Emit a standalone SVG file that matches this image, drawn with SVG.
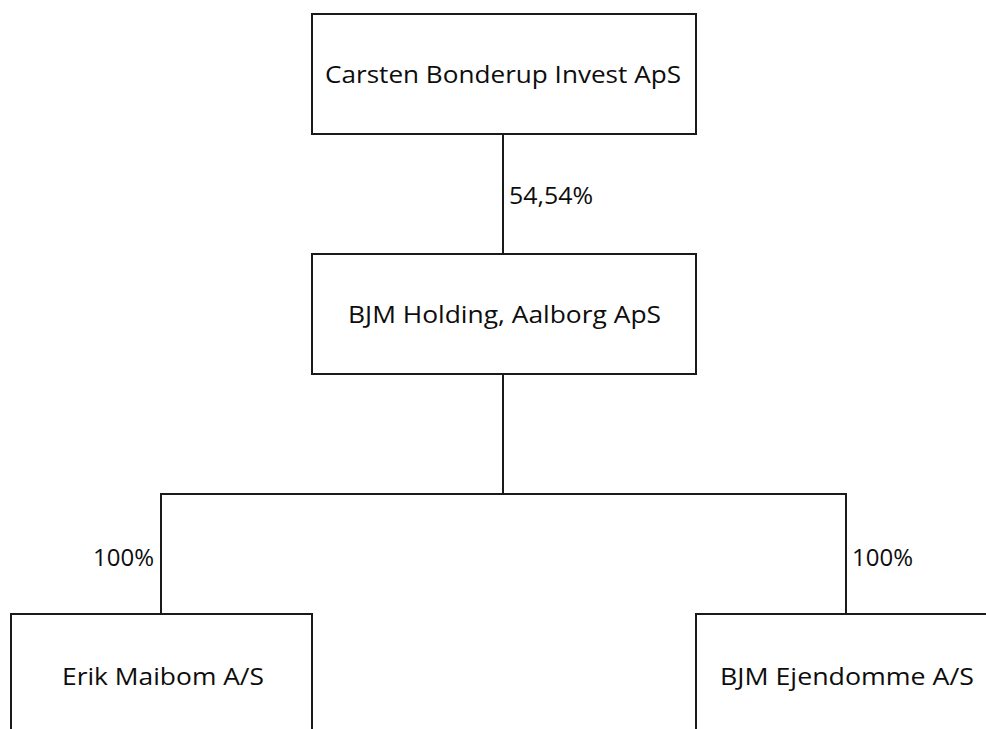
<svg xmlns="http://www.w3.org/2000/svg" width="986" height="729" viewBox="0 0 986 729">
<style>
.box{fill:#ffffff;stroke:#1a1a1a;stroke-width:2}
.ln{fill:none;stroke:#1a1a1a;stroke-width:2}
text{font-family:"Open Sans","Noto Sans",sans-serif;font-size:23px;fill:#0d0d0d}
</style>
<rect width="986" height="729" fill="#ffffff"/>
<g id="connectors">
<line class="ln" x1="503" y1="134" x2="503" y2="254"/>
<polyline class="ln" points="503,374 503,494 161,494 161,614"/>
<polyline class="ln" points="503,494 846,494 846,614"/>
<text x="509" y="204" textLength="84" lengthAdjust="spacingAndGlyphs">54,54%</text>
<text x="93" y="566" textLength="61" lengthAdjust="spacingAndGlyphs">100%</text>
<text x="852" y="566" textLength="61" lengthAdjust="spacingAndGlyphs">100%</text>
</g>
<g id="n1">
<rect class="box" x="312" y="14" width="384" height="120"/>
<text x="325" y="83" textLength="356" lengthAdjust="spacingAndGlyphs">Carsten Bonderup Invest ApS</text>
</g>
<g id="n2">
<rect class="box" x="312" y="254" width="384" height="120"/>
<text x="348" y="323" textLength="313" lengthAdjust="spacingAndGlyphs">BJM Holding, Aalborg ApS</text>
</g>
<g id="n3">
<rect class="box" x="11" y="614" width="301" height="130"/>
<text x="62" y="685" textLength="202" lengthAdjust="spacingAndGlyphs">Erik Maibom A/S</text>
</g>
<g id="n4">
<rect class="box" x="696" y="614" width="300" height="130"/>
<text x="720" y="685" textLength="254" lengthAdjust="spacingAndGlyphs">BJM Ejendomme A/S</text>
</g>
</svg>
